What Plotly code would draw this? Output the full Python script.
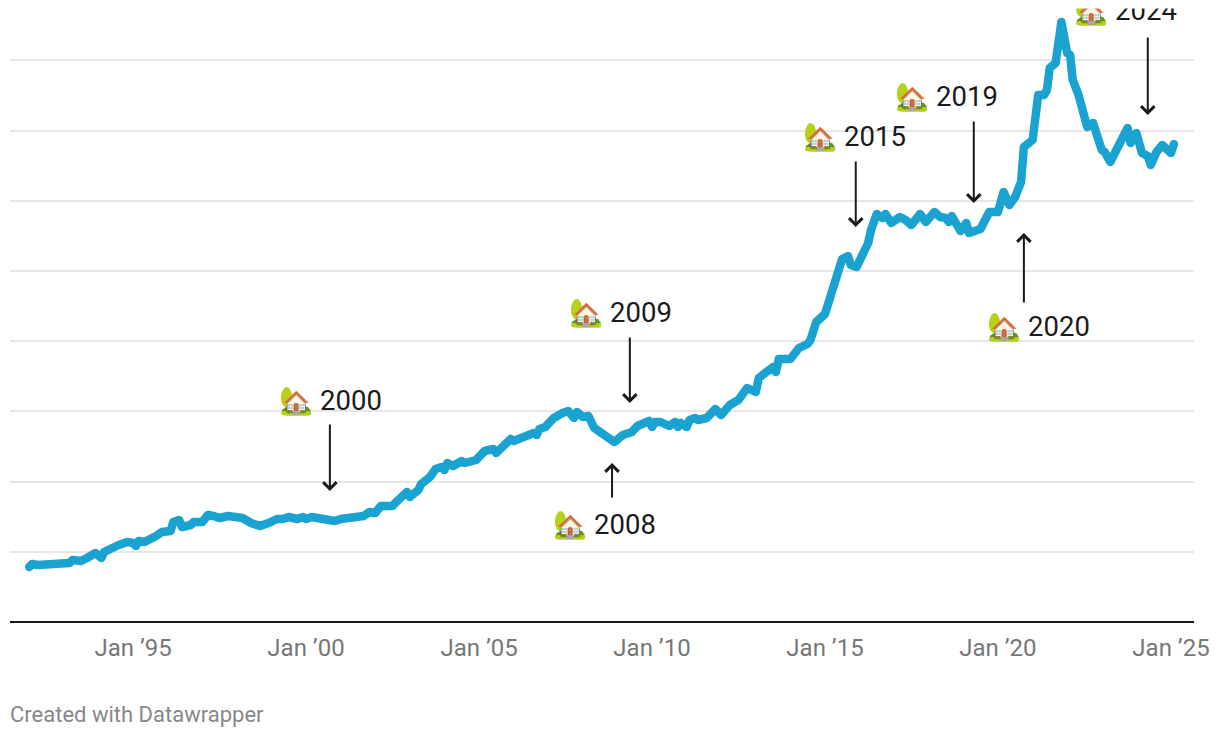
import plotly.graph_objects as go

dates = """1992-01 1992-02 1992-04 1992-07 1992-12 1993-03 1993-04 1993-07 1993-09 1993-12
1994-02 1994-03 1994-08 1994-11 1995-01 1995-02 1995-03 1995-05 1995-09 1995-11
1996-02 1996-03 1996-05 1996-06 1996-09 1996-10 1997-01 1997-03 1997-05 1997-07
1997-10 1998-03 1998-06 1998-09 1998-12 1999-03 1999-05 1999-07 1999-10 1999-12
2000-01 2000-03 2000-07 2000-11 2001-01 2001-05 2001-09 2001-11 2002-01 2002-03
2002-07 2002-09 2002-12 2003-01 2003-04 2003-05 2003-08 2003-10 2003-12 2004-01
2004-02 2004-04 2004-07 2004-08 2004-12 2005-03 2005-06 2005-07 2005-09 2005-12
2006-01 2006-03 2006-06 2006-08 2006-09 2006-10 2006-12 2007-03 2007-06 2007-08
2007-10 2007-11 2008-01 2008-03 2008-05 2008-08 2008-10 2008-12 2009-02 2009-03
2009-06 2009-08 2009-12 2010-01 2010-02 2010-04 2010-07 2010-09 2010-10 2010-11
2011-01 2011-02 2011-04 2011-05 2011-08 2011-11 2012-01 2012-04 2012-07 2012-10
2013-01 2013-02 2013-07 2013-08 2013-09 2014-01 2014-04 2014-07 2014-08 2014-10
2015-01 2015-03 2015-05 2015-07 2015-09 2015-10 2015-12 2016-02 2016-04 2016-05
2016-07 2016-09 2016-10 2016-12 2017-03 2017-05 2017-07 2017-10 2017-12 2018-03
2018-05 2018-07 2018-08 2018-09 2018-12 2019-02 2019-03 2019-07 2019-09 2019-10
2020-01 2020-03 2020-05 2020-07 2020-09 2020-10 2021-01 2021-02 2021-03 2021-05
2021-06 2021-07 2021-09 2021-11 2021-12 2022-01 2022-02 2022-03 2022-05 2022-07
2022-08 2022-10 2023-01 2023-02 2023-04 2023-07 2023-10 2023-11 2024-01 2024-03
2024-05 2024-06 2024-08 2024-10 2025-01 2025-02""".split()

values = [55, 58, 57, 58, 59, 59, 62, 61, 64, 69,
          64, 70, 77, 80, 79, 76, 81, 80, 86, 90,
          91, 100, 102, 95, 97, 100, 100, 107, 106, 104,
          106, 104, 99, 96, 99, 103, 103, 105, 103, 105,
          103, 105, 103, 101, 103, 104, 106, 110, 109, 116,
          116, 122, 130, 125, 132, 138, 145, 153, 155, 152,
          159, 156, 161, 159, 162, 171, 173, 169, 175, 183,
          181, 183, 188, 189, 187, 193, 195, 204, 209, 211,
          204, 210, 205, 206, 194, 189, 185, 180, 185, 187,
          190, 196, 201, 195, 200, 200, 196, 200, 195, 199,
          195, 202, 204, 202, 204, 213, 207, 217, 222, 234,
          230, 244, 255, 250, 263, 263, 274, 278, 282, 300,
          308, 327, 344, 363, 366, 357, 355, 367, 379, 392,
          408, 404, 408, 399, 405, 402, 397, 408, 400, 410,
          405, 404, 400, 406, 391, 399, 389, 393, 404, 410,
          410, 430, 417, 425, 440, 475, 482, 519, 527, 527,
          532, 554, 559, 600, 579, 569, 567, 542, 527, 505,
          495, 499, 472, 470, 460, 477, 494, 479, 489, 469,
          466, 457, 470, 477, 469, 478]

tick_dates = ["1995-01-01", "2000-01-01", "2005-01-01", "2010-01-01", "2015-01-01", "2020-01-01", "2025-01-01"]
tick_labels = ["Jan ’95", "Jan ’00", "Jan ’05", "Jan ’10", "Jan ’15", "Jan ’20", "Jan ’25"]

event_labels = ["2000", "2009", "2008", "2015", "2019", "2020", "2024"]
event_dates = ["2000-09-09", "2009-05-12", "2008-11-05", "2015-11-22", "2019-04-21", "2020-10-01", "2024-05-01"]
arrow_from = [199, 286, 123, 462, 502, 318, 586]
arrow_to = [131, 219, 159, 395, 419, 389, 507]
label_left = [278, 568, 552, 802, 894, 986, 1073]
label_mid = [400, 312, 524, 136.5, 96, 326, 11]

W, H = 1220, 738
L, R, B = 10, 1194, 621

def px(x):
    return (x - L) / (R - L)

def py(y):
    return 1 - y / B

fig = go.Figure(go.Scatter(
    x=dates, y=values, mode="lines",
    line=dict(color="#1aa3d1", width=8.5, shape="linear"),
    hoverinfo="skip", cliponaxis=False,
))

ann = []
for d, a, b in zip(event_dates, arrow_from, arrow_to):
    ann.append(dict(x=d, y=b, ax=d, ay=a, xref="x", yref="y", axref="x", ayref="y",
                    text="", showarrow=True, arrowhead=4, arrowsize=1.3, arrowwidth=2,
                    arrowcolor="#1a1a1a"))
for t, l, m in zip(event_labels, label_left, label_mid):
    ann.append(dict(x=px(l), y=py(m), xref="paper", yref="paper", xanchor="left", yanchor="middle",
                    text="🏡 " + t, showarrow=False, borderpad=0,
                    font=dict(family="Roboto, 'Noto Color Emoji'", size=27.5, color="#1a1a1a")))
# white strip: the reference crops everything above this line
ann.append(dict(x=px(610), y=py(9), xref="paper", yref="paper", xanchor="center", yanchor="bottom",
                text=" ", showarrow=False, bgcolor="#ffffff", width=1240, height=40, borderpad=0,
                font=dict(size=6)))
ann.append(dict(x=px(9), y=py(714), xref="paper", yref="paper", xanchor="left", yanchor="middle",
                text="Created with Datawrapper", showarrow=False, borderpad=0,
                font=dict(family="Roboto", size=22, color="#888888")))

fig.update_layout(
    width=W, height=H, autosize=False,
    margin=dict(l=L, r=W - R, t=0, b=H - B, pad=0),
    paper_bgcolor="#ffffff", plot_bgcolor="#ffffff", showlegend=False,
    xaxis=dict(type="date", range=["1991-06-12", "2025-09-01"], tickmode="array",
               tickvals=tick_dates, ticktext=tick_labels, showgrid=False, zeroline=False,
               showline=True, linecolor="#1a1a1a", linewidth=2, ticks="", ticklabelstandoff=4,
               tickfont=dict(family="Roboto", size=24, color="#777777")),
    yaxis=dict(range=[1, 622], tick0=0, dtick=70.2, showgrid=True, gridcolor="#e6e6e6", gridwidth=2,
               zeroline=False, showticklabels=False, ticks="", showline=False),
    annotations=ann,
)

fig.write_html("out.html", config={"displayModeBar": False},
               post_script="document.body.style.margin='0';document.body.style.overflow='hidden';"
                           "document.querySelectorAll('.js-line').forEach(function(e){"
                           "e.style.strokeLinejoin='round';e.style.strokeLinecap='round';});")
